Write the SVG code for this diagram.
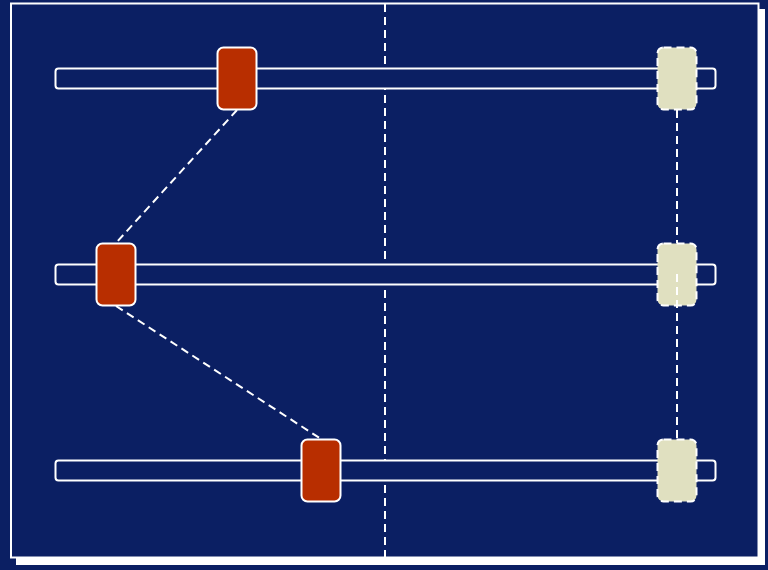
<svg xmlns="http://www.w3.org/2000/svg" width="768" height="570" viewBox="0 0 768 570">
<style>
.track{fill:#0b1f63;stroke:#fff;stroke-width:2}
.knob{fill:#b82e00;stroke:#fff;stroke-width:2}
.ghost{fill:#e0e0c0;stroke:#fff;stroke-width:2;stroke-dasharray:8 5}
.dash{fill:none;stroke:#fff;stroke-width:2;stroke-dasharray:8 5}
</style>
<rect x="0" y="0" width="768" height="570" fill="#0b1f63"/>
<rect x="16" y="9" width="749" height="556" fill="#fff"/>
<rect x="11" y="3.5" width="747.5" height="554" fill="#0b1f63" stroke="#fff" stroke-width="2"/>
<g id="guide"><line class="dash" x1="385" y1="4" x2="385" y2="557"/></g>
<g id="track1"><rect class="track" x="55.5" y="68.5" width="660" height="20" rx="3"/></g>
<g id="track2"><rect class="track" x="55.5" y="264.5" width="660" height="20" rx="3"/></g>
<g id="track3"><rect class="track" x="55.5" y="460.5" width="660" height="20" rx="3"/></g>
<g id="connectors">
<line class="dash" x1="237" y1="110" x2="116" y2="243"/>
<line class="dash" x1="116" y1="306" x2="321" y2="439"/>
</g>
<g id="ghost1"><rect class="ghost" x="657.5" y="47.5" width="39" height="62" rx="6"/></g>
<g id="ghost2"><rect class="ghost" x="657.5" y="243.5" width="39" height="62" rx="6"/></g>
<g id="ghost3"><rect class="ghost" x="657.5" y="439.5" width="39" height="62" rx="6"/></g>
<g id="ghost-connectors">
<line class="dash" x1="677" y1="110" x2="677" y2="243"/>
<line class="dash" x1="677" y1="274" x2="677" y2="439"/>
</g>
<g id="knob1"><rect class="knob" x="217.5" y="47.5" width="39" height="62" rx="6"/></g>
<g id="knob2"><rect class="knob" x="96.5" y="243.5" width="39" height="62" rx="6"/></g>
<g id="knob3"><rect class="knob" x="301.5" y="439.5" width="39" height="62" rx="6"/></g>
</svg>
